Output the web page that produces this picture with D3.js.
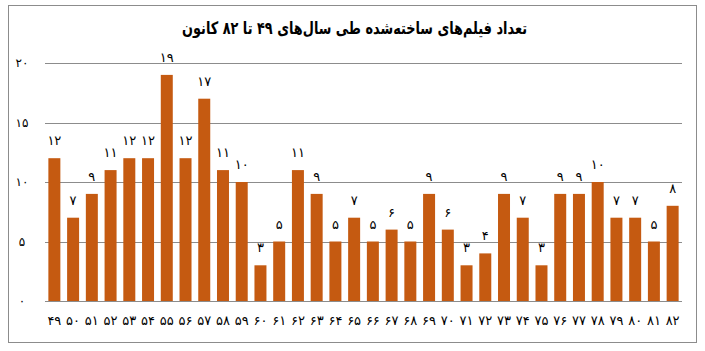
<!DOCTYPE html>
<html>
<head>
<meta charset="utf-8">
<script src="https://cdn.jsdelivr.net/npm/d3@7"></script>
<style>
  body { margin: 0; background: #fff; }
  text { font-family: "DejaVu Sans", sans-serif; }
</style>
</head>
<body>
<svg id="chart"></svg>
<script>
const title = "تعداد فیلم‌های ساخته‌شده طی سال‌های ۴۹ تا ۸۲ کانون";
const years = [49,50,51,52,53,54,55,56,57,58,59,60,61,62,63,64,65,66,67,68,69,70,71,72,73,74,75,76,77,78,79,80,81,82];
const counts = [12,7,9,11,12,12,19,12,17,11,10,3,5,11,9,5,7,5,6,5,9,6,3,4,9,7,3,9,9,10,7,7,5,8];
const yTicks = [0,5,10,15,20];

const fa = n => String(n).replace(/\d/g, c => "۰۱۲۳۴۵۶۷۸۹"[+c]);

const width = 705, height = 351;
const margin = {top: 63, right: 23, bottom: 50, left: 45};

const svg = d3.select("#chart")
    .attr("width", width)
    .attr("height", height);

// outer frame
svg.append("rect")
    .attr("x", 8.5).attr("y", 5.5)
    .attr("width", 688).attr("height", 337)
    .attr("fill", "none")
    .attr("stroke", "#8c8c8c");

svg.append("text")
    .attr("x", width / 2 + 2)
    .attr("y", 34)
    .attr("text-anchor", "middle")
    .attr("direction", "rtl")
    .attr("font-size", 17)
    .attr("font-weight", "bold")
    .attr("fill", "#000")
    .attr("textLength", 345)
    .attr("lengthAdjust", "spacingAndGlyphs")
    .text(title);

const x = d3.scaleBand()
    .domain(years)
    .range([margin.left, width - margin.right])
    .paddingInner(0.36)
    .paddingOuter(0.18);

const y = d3.scaleLinear()
    .domain([0, 20])
    .range([height - margin.bottom, margin.top]);

// grid
svg.append("g")
    .selectAll("line")
    .data(yTicks)
    .join("line")
    .attr("x1", margin.left)
    .attr("x2", width - margin.right)
    .attr("y1", d => Math.round(y(d)) + 0.5)
    .attr("y2", d => Math.round(y(d)) + 0.5)
    .attr("stroke", "#8c8c8c")
    .attr("stroke-width", 1);

svg.append("g")
    .selectAll("text")
    .data(yTicks)
    .join("text")
    .attr("x", 22)
    .attr("y", d => y(d))
    .attr("dy", "0.35em")
    .attr("text-anchor", "middle")
    .attr("font-size", 12)
    .attr("fill", "#000")
    .text(d => fa(d));

svg.append("g")
    .selectAll("rect")
    .data(counts)
    .join("rect")
    .attr("x", (d, i) => x(years[i]))
    .attr("y", d => y(d))
    .attr("width", x.bandwidth())
    .attr("height", d => y(0) - y(d))
    .attr("fill", "#c55a11");

svg.append("g")
    .selectAll("text")
    .data(counts)
    .join("text")
    .attr("x", (d, i) => x(years[i]) + x.bandwidth() / 2)
    .attr("y", d => y(d) - 13)
    .attr("text-anchor", "middle")
    .attr("font-size", 13)
    .attr("fill", "#000")
    .text(d => fa(d));

svg.append("g")
    .selectAll("text")
    .data(years)
    .join("text")
    .attr("x", d => x(d) + x.bandwidth() / 2)
    .attr("y", 325)
    .attr("text-anchor", "middle")
    .attr("font-size", 13)
    .attr("fill", "#000")
    .text(d => fa(d));
</script>
</body>
</html>
